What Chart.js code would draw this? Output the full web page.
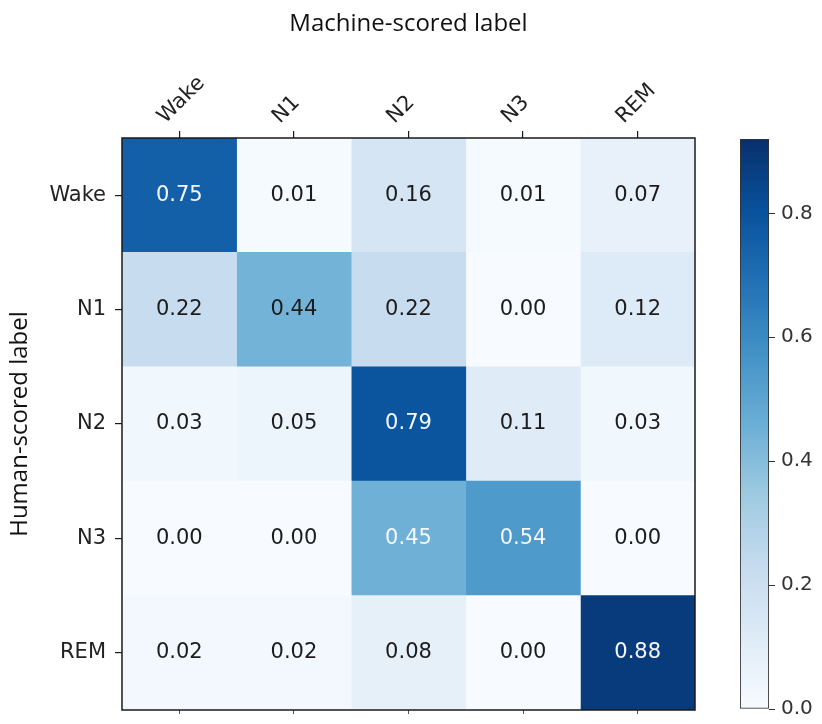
<!DOCTYPE html>
<html>
<head>
<meta charset="utf-8">
<script src="https://cdn.jsdelivr.net/npm/chart.js@4.4.1/dist/chart.umd.min.js"></script>
<style>
  html, body { margin: 0; padding: 0; background: #fff; }
  #wrap { position: relative; width: 822px; height: 724px; }
  #matrix { position: absolute; left: 0; top: 0; }
  #cbar { position: absolute; left: 700px; top: 0; }
</style>
</head>
<body>
<div id="wrap">
  <canvas id="matrix" width="700" height="724"></canvas>
  <canvas id="cbar" width="122" height="724"></canvas>
</div>
<script>
// Etapas do sono (linhas = humano, colunas = máquina)
const stages = ['Wake', 'N1', 'N2', 'N3', 'REM'];

const rowWake = [0.75, 0.01, 0.16, 0.01, 0.07];
const rowN1   = [0.22, 0.44, 0.22, 0.00, 0.12];
const rowN2   = [0.03, 0.05, 0.79, 0.11, 0.03];
const rowN3   = [0.00, 0.00, 0.45, 0.54, 0.00];
const rowREM  = [0.02, 0.02, 0.08, 0.00, 0.88];
const rows = [rowWake, rowN1, rowN2, rowN3, rowREM];

// escala de cor
const colorMin = 0;
const colorMax = 0.92;
const colorTicks = [0.0, 0.2, 0.4, 0.6, 0.8];
const whiteAbove = 0.445;

// matplotlib "Blues"
const blues = ['#f7fbff', '#deebf7', '#c6dbef', '#9ecae1', '#6baed6',
               '#4292c6', '#2171b5', '#08519c', '#08306b'];

function hexToRgb(h) {
    return [parseInt(h.slice(1, 3), 16), parseInt(h.slice(3, 5), 16), parseInt(h.slice(5, 7), 16)];
}

function bluesColor(v) {
    let t = (v - colorMin) / (colorMax - colorMin);
    t = Math.max(0, Math.min(1, t));
    const pos = t * (blues.length - 1);
    const i = Math.min(Math.floor(pos), blues.length - 2);
    const f = pos - i;
    const a = hexToRgb(blues[i]), b = hexToRgb(blues[i + 1]);
    const c = a.map((x, k) => Math.round(x + (b[k] - x) * f));
    return 'rgb(' + c.join(',') + ')';
}

const tickFont = { family: 'DejaVu Sans', size: 21 };
const cbarFont = { family: 'DejaVu Sans', size: 20 };
const titleFont = { family: 'Open Sans', size: 24 };

// cada coluna vira um dataset empilhado (1 unidade de largura por célula)
const datasets = stages.map((col, j) => ({
    label: col,
    data: rows.map(() => 1),
    values: rows.map(r => r[j]),
    backgroundColor: rows.map(r => bluesColor(r[j])),
    borderWidth: 0,
    barPercentage: 1,
    categoryPercentage: 1
}));

const cellText = {
    id: 'cellText',
    afterDatasetsDraw(chart) {
        const ctx = chart.ctx;
        ctx.save();
        ctx.font = '21px "DejaVu Sans"';
        ctx.textAlign = 'center';
        ctx.textBaseline = 'middle';
        chart.data.datasets.forEach((ds, j) => {
            chart.getDatasetMeta(j).data.forEach((el, i) => {
                const p = el.getProps(['x', 'y', 'base'], true);
                const v = ds.values[i];
                ctx.fillStyle = v > whiteAbove ? '#f4f7fc' : '#1c1c1c';
                ctx.fillText(v.toFixed(2), (p.x + p.base) / 2, p.y);
            });
        });
        ctx.restore();
    }
};

const frame = {
    id: 'frame',
    afterDraw(chart) {
        const a = chart.chartArea;
        const ctx = chart.ctx;
        ctx.save();
        ctx.strokeStyle = '#1a1a1a';
        ctx.lineWidth = 1.5;
        ctx.strokeRect(a.left, a.top, a.right - a.left, a.bottom - a.top);
        ctx.restore();
    }
};

new Chart(document.getElementById('matrix'), {
    type: 'bar',
    data: { labels: stages, datasets: datasets },
    options: {
        indexAxis: 'y',
        responsive: false,
        animation: false,
        layout: { padding: { top: 0, right: 5, bottom: 10, left: 0 } },
        plugins: {
            legend: { display: false },
            tooltip: { enabled: false }
        },
        scales: {
            x: {
                type: 'linear',
                stacked: true,
                min: 0,
                max: stages.length,
                display: false
            },
            x2: {
                type: 'category',
                labels: stages,
                position: 'top',
                offset: true,
                grid: { display: true, offset: false, drawOnChartArea: false, tickLength: 7, color: '#1a1a1a', lineWidth: 1.2 },
                border: { display: false },
                ticks: { font: tickFont, color: '#222', minRotation: 45, maxRotation: 45, padding: 2, labelOffset: 0 },
                title: { display: true, text: 'Machine-scored label', font: titleFont, color: '#111', padding: { top: 10, bottom: 0 } },
                afterFit(scale) {
                    scale.height = 138;
                    scale.paddingLeft = 0;
                    scale.paddingRight = 0;
                }
            },
            x3: {
                type: 'category',
                labels: stages,
                position: 'bottom',
                offset: true,
                grid: { display: true, offset: false, drawOnChartArea: false, tickLength: 4, color: '#555', lineWidth: 1 },
                border: { display: false },
                ticks: { display: false },
                afterFit(scale) {
                    scale.height = 4;
                    scale.paddingLeft = 0;
                    scale.paddingRight = 0;
                }
            },
            y: {
                type: 'category',
                stacked: true,
                offset: true,
                grid: { display: true, offset: false, drawOnChartArea: false, tickLength: 7, color: '#1a1a1a', lineWidth: 1.2 },
                border: { display: false },
                ticks: { font: tickFont, color: '#222', padding: 9 },
                title: { display: true, text: 'Human-scored label', font: titleFont, color: '#111', padding: { top: 6, bottom: 0 } },
                afterFit(scale) {
                    scale.width = 122;
                    scale.paddingTop = 0;
                    scale.paddingBottom = 0;
                }
            }
        }
    },
    plugins: [cellText, frame]
});

// barra de cores
new Chart(document.getElementById('cbar'), {
    type: 'bar',
    data: {
        labels: [''],
        datasets: [{
            data: [colorMax],
            backgroundColor(ctx) {
                const a = ctx.chart.chartArea;
                if (!a) return blues[0];
                const g = ctx.chart.ctx.createLinearGradient(0, a.bottom, 0, a.top);
                blues.forEach((c, i) => g.addColorStop(i / (blues.length - 1), c));
                return g;
            },
            borderColor: '#333',
            borderWidth: 1.2,
            borderSkipped: false,
            barPercentage: 1,
            categoryPercentage: 1
        }]
    },
    options: {
        responsive: false,
        animation: false,
        layout: { padding: { top: 139, right: 0, bottom: 15, left: 40 } },
        plugins: { legend: { display: false }, tooltip: { enabled: false } },
        scales: {
            x: { display: false },
            y: {
                position: 'right',
                min: colorMin,
                max: colorMax,
                grid: { drawOnChartArea: false, tickLength: 6, color: '#333' },
                border: { display: false },
                afterBuildTicks(scale) { scale.ticks = colorTicks.map(v => ({ value: v })); },
                ticks: {
                    font: cbarFont,
                    color: '#333',
                    padding: 6,
                    callback: v => v.toFixed(1)
                },
                afterFit(scale) {
                    scale.width = 53;
                    scale.paddingTop = 0;
                    scale.paddingBottom = 0;
                }
            }
        }
    }
});
</script>
</body>
</html>
